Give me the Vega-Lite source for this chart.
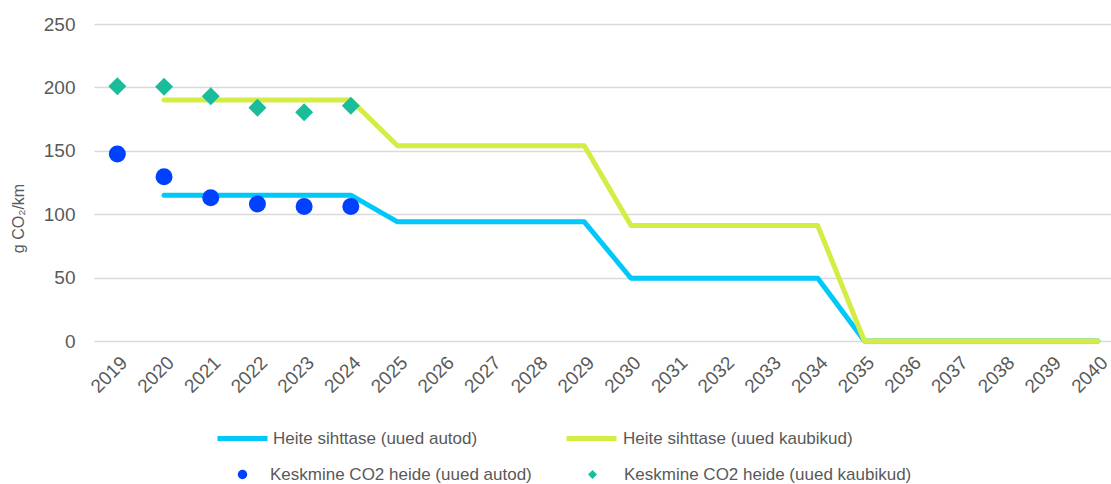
{
  "$schema": "https://vega.github.io/schema/vega-lite/v6.json",
  "autosize": "none",
  "padding": {"left": 94, "top": 24, "right": 0, "bottom": 143},
  "width": 1017,
  "height": 317,
  "background": "white",
  "config": {
    "view": {"stroke": null},
    "font": "Liberation Sans",
    "legend": {
      "labelFont": "Liberation Sans",
      "labelFontSize": 17,
      "labelColor": "#595959",
      "labelLimit": 400,
      "title": null
    }
  },
  "data": {
    "values": [
      {"year": 2020, "value": 115, "series": "Heite sihttase (uued autod)"},
      {"year": 2021, "value": 115, "series": "Heite sihttase (uued autod)"},
      {"year": 2022, "value": 115, "series": "Heite sihttase (uued autod)"},
      {"year": 2023, "value": 115, "series": "Heite sihttase (uued autod)"},
      {"year": 2024, "value": 115, "series": "Heite sihttase (uued autod)"},
      {"year": 2025, "value": 94, "series": "Heite sihttase (uued autod)"},
      {"year": 2026, "value": 94, "series": "Heite sihttase (uued autod)"},
      {"year": 2027, "value": 94, "series": "Heite sihttase (uued autod)"},
      {"year": 2028, "value": 94, "series": "Heite sihttase (uued autod)"},
      {"year": 2029, "value": 94, "series": "Heite sihttase (uued autod)"},
      {"year": 2030, "value": 49.5, "series": "Heite sihttase (uued autod)"},
      {"year": 2031, "value": 49.5, "series": "Heite sihttase (uued autod)"},
      {"year": 2032, "value": 49.5, "series": "Heite sihttase (uued autod)"},
      {"year": 2033, "value": 49.5, "series": "Heite sihttase (uued autod)"},
      {"year": 2034, "value": 49.5, "series": "Heite sihttase (uued autod)"},
      {"year": 2035, "value": 0, "series": "Heite sihttase (uued autod)"},
      {"year": 2036, "value": 0, "series": "Heite sihttase (uued autod)"},
      {"year": 2037, "value": 0, "series": "Heite sihttase (uued autod)"},
      {"year": 2038, "value": 0, "series": "Heite sihttase (uued autod)"},
      {"year": 2039, "value": 0, "series": "Heite sihttase (uued autod)"},
      {"year": 2040, "value": 0, "series": "Heite sihttase (uued autod)"},
      {"year": 2020, "value": 190, "series": "Heite sihttase (uued kaubikud)"},
      {"year": 2021, "value": 190, "series": "Heite sihttase (uued kaubikud)"},
      {"year": 2022, "value": 190, "series": "Heite sihttase (uued kaubikud)"},
      {"year": 2023, "value": 190, "series": "Heite sihttase (uued kaubikud)"},
      {"year": 2024, "value": 190, "series": "Heite sihttase (uued kaubikud)"},
      {"year": 2025, "value": 154, "series": "Heite sihttase (uued kaubikud)"},
      {"year": 2026, "value": 154, "series": "Heite sihttase (uued kaubikud)"},
      {"year": 2027, "value": 154, "series": "Heite sihttase (uued kaubikud)"},
      {"year": 2028, "value": 154, "series": "Heite sihttase (uued kaubikud)"},
      {"year": 2029, "value": 154, "series": "Heite sihttase (uued kaubikud)"},
      {"year": 2030, "value": 91, "series": "Heite sihttase (uued kaubikud)"},
      {"year": 2031, "value": 91, "series": "Heite sihttase (uued kaubikud)"},
      {"year": 2032, "value": 91, "series": "Heite sihttase (uued kaubikud)"},
      {"year": 2033, "value": 91, "series": "Heite sihttase (uued kaubikud)"},
      {"year": 2034, "value": 91, "series": "Heite sihttase (uued kaubikud)"},
      {"year": 2035, "value": 0, "series": "Heite sihttase (uued kaubikud)"},
      {"year": 2036, "value": 0, "series": "Heite sihttase (uued kaubikud)"},
      {"year": 2037, "value": 0, "series": "Heite sihttase (uued kaubikud)"},
      {"year": 2038, "value": 0, "series": "Heite sihttase (uued kaubikud)"},
      {"year": 2039, "value": 0, "series": "Heite sihttase (uued kaubikud)"},
      {"year": 2040, "value": 0, "series": "Heite sihttase (uued kaubikud)"},
      {"year": 2019, "value": 147.5, "series": "Keskmine CO2 heide (uued autod)"},
      {"year": 2020, "value": 129.5, "series": "Keskmine CO2 heide (uued autod)"},
      {"year": 2021, "value": 113, "series": "Keskmine CO2 heide (uued autod)"},
      {"year": 2022, "value": 108, "series": "Keskmine CO2 heide (uued autod)"},
      {"year": 2023, "value": 106, "series": "Keskmine CO2 heide (uued autod)"},
      {"year": 2024, "value": 106, "series": "Keskmine CO2 heide (uued autod)"},
      {"year": 2019, "value": 201, "series": "Keskmine CO2 heide (uued kaubikud)"},
      {"year": 2020, "value": 200.5, "series": "Keskmine CO2 heide (uued kaubikud)"},
      {"year": 2021, "value": 193, "series": "Keskmine CO2 heide (uued kaubikud)"},
      {"year": 2022, "value": 184, "series": "Keskmine CO2 heide (uued kaubikud)"},
      {"year": 2023, "value": 180.5, "series": "Keskmine CO2 heide (uued kaubikud)"},
      {"year": 2024, "value": 185.5, "series": "Keskmine CO2 heide (uued kaubikud)"}
    ]
  },
  "encoding": {
    "x": {
      "field": "year",
      "type": "quantitative",
      "scale": {"domain": [2018.5, 2040.28], "nice": false, "zero": false},
      "axis": {
        "title": null,
        "values": [2019,2020,2021,2022,2023,2024,2025,2026,2027,2028,2029,2030,2031,2032,2033,2034,2035,2036,2037,2038,2039,2040],
        "format": "d",
        "labelAngle": -45,
        "labelFont": "Liberation Sans",
        "labelFontSize": 19,
        "labelColor": "#595959",
        "labelPadding": 12,
        "labelOverlap": false,
        "labelFlush": false,
        "grid": false,
        "domain": false,
        "ticks": false
      }
    },
    "y": {
      "field": "value",
      "type": "quantitative",
      "scale": {"domain": [0, 250], "nice": false},
      "axis": {
        "title": "g CO₂/km",
        "titleFont": "Liberation Sans",
        "titleFontSize": 16,
        "titleFontWeight": "normal",
        "titleColor": "#595959",
        "titleX": -68,
        "titleY": 194,
        "titleAngle": -90,
        "values": [0, 50, 100, 150, 200, 250],
        "labelFont": "Liberation Sans",
        "labelFontSize": 19,
        "labelColor": "#595959",
        "labelPadding": 19,
        "grid": true,
        "gridColor": "#d9d9d9",
        "gridWidth": 1.5,
        "domain": false,
        "ticks": false
      }
    }
  },
  "layer": [
    {
      "transform": [{"filter": "datum.series === 'Heite sihttase (uued autod)'"}],
      "mark": {"type": "line", "strokeWidth": 5, "strokeCap": "round", "strokeJoin": "round"},
      "encoding": {
        "color": {
          "field": "series", "type": "nominal",
          "scale": {"range": ["#00C8F8"]},
          "legend": {"orient": "none", "legendX": 121, "legendY": 387, "symbolType": "stroke", "symbolSize": 2500, "symbolStrokeWidth": 5, "labelOffset": 3}
        }
      }
    },
    {
      "transform": [{"filter": "datum.series === 'Heite sihttase (uued kaubikud)'"}],
      "mark": {"type": "line", "strokeWidth": 5, "strokeCap": "round", "strokeJoin": "round"},
      "encoding": {
        "color": {
          "field": "series", "type": "nominal",
          "scale": {"range": ["#D4EC44"]},
          "legend": {"orient": "none", "legendX": 470, "legendY": 387, "symbolType": "stroke", "symbolSize": 2500, "symbolStrokeWidth": 5, "labelOffset": 4}
        }
      }
    },
    {
      "transform": [{"filter": "datum.series === 'Keskmine CO2 heide (uued autod)'"}],
      "mark": {"type": "point", "shape": "circle", "filled": true, "size": 289, "opacity": 1},
      "encoding": {
        "color": {
          "field": "series", "type": "nominal",
          "scale": {"range": ["#0041FF"]},
          "legend": {"orient": "none", "legendX": 140, "legendY": 442, "symbolType": "circle", "symbolSize": 90, "labelOffset": 19, "symbolOpacity": 1}
        }
      }
    },
    {
      "transform": [{"filter": "datum.series === 'Keskmine CO2 heide (uued kaubikud)'"}],
      "mark": {"type": "point", "shape": "diamond", "filled": true, "size": 324, "opacity": 1},
      "encoding": {
        "color": {
          "field": "series", "type": "nominal",
          "scale": {"range": ["#1ABC9C"]},
          "legend": {"orient": "none", "legendX": 490, "legendY": 442, "symbolType": "diamond", "symbolSize": 81, "labelOffset": 23, "symbolOpacity": 1}
        }
      }
    }
  ],
  "resolve": {"scale": {"color": "independent"}, "legend": {"color": "independent"}}
}
